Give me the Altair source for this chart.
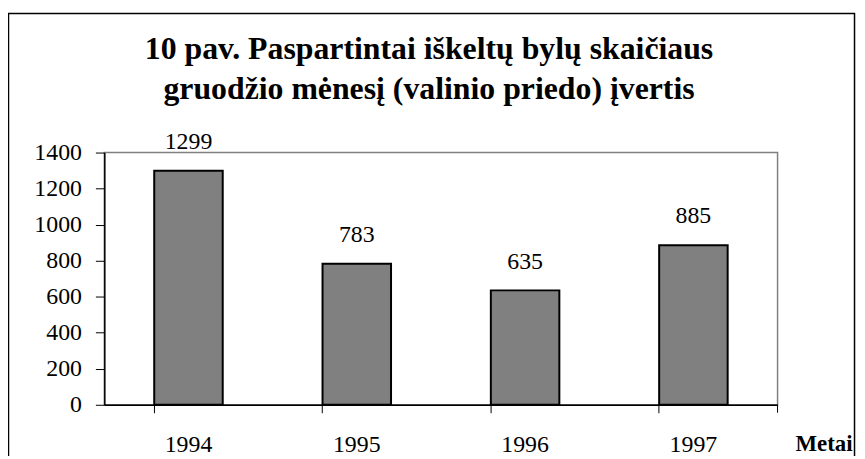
import altair as alt
import pandas as pd

years = ["1994", "1995", "1996", "1997"]
values = [1299, 783, 635, 885]
y_ticks = [0, 200, 400, 600, 800, 1000, 1200, 1400]
title_lines = ["10 pav. Paspartintai iškeltų bylų skaičiaus",
               "gruodžio mėnesį (valinio priedo) įvertis"]
x_title = "Metai"

df = pd.DataFrame({"year": years, "value": values})
FONT = "Liberation Serif"

W, H = 678, 254

x_enc = alt.X("year:N", sort=years,
              scale=alt.Scale(paddingInner=0.593, paddingOuter=0.2965),
              axis=alt.Axis(title=x_title, labelAngle=0, bandPosition=0,
                            labelFont=FONT, labelFontSize=24, labelColor="black",
                            labelPadding=20, tickSize=8, tickColor="black",
                            domainColor="black", domainWidth=1.5,
                            titleFont=FONT, titleFontSize=23, titleFontWeight="bold",
                            titleColor="black", titleAlign="right",
                            titleBaseline="alphabetic", titleX=753, titleY=46,
                            titleAnchor="end", grid=False))
y_enc = alt.Y("value:Q", scale=alt.Scale(domain=[0, 1400], nice=False),
              axis=alt.Axis(title=None, values=y_ticks, format="d", labelOverlap=False,
                            labelFont=FONT, labelFontSize=24, labelColor="black",
                            labelPadding=14, tickSize=9, tickColor="black",
                            domainColor="black", domainWidth=1.5, grid=False))

base = alt.Chart(df)
bars = base.mark_bar(color="#808080", stroke="black", strokeWidth=2).encode(x=x_enc, y=y_enc)
labels = base.mark_text(dy=-22, baseline="alphabetic", font=FONT, fontSize=24,
                        color="black").encode(x=x_enc, y=y_enc, text="value:Q")

dummy = pd.DataFrame({"a": [0]})
frame = alt.Chart(dummy).mark_rect(fillOpacity=0, stroke="black", strokeWidth=1.5).encode(
    x=alt.value(-96.5), x2=alt.value(755.5), y=alt.value(-140), y2=alt.value(420))
end_tick = alt.Chart(dummy).mark_rule(color="black", strokeWidth=1).encode(
    x=alt.value(W), y=alt.value(H), y2=alt.value(H + 8))
title = alt.Chart(dummy).mark_text(font=FONT, fontSize=32, fontWeight="bold", color="black",
                                   align="center", baseline="alphabetic",
                                   lineHeight=40).encode(
    x=alt.value(327), y=alt.value(-94), text=alt.value(title_lines))

chart = alt.layer(bars, labels, end_tick, frame, title).properties(
    width=W, height=H,
    autosize=alt.AutoSizeParams(type="none"),
    padding={"left": 97, "top": 144, "right": 80, "bottom": 50},
).configure_view(stroke="#808080", strokeWidth=1.5)

chart.save("out.html", embed_options={"renderer": "svg", "actions": False})
